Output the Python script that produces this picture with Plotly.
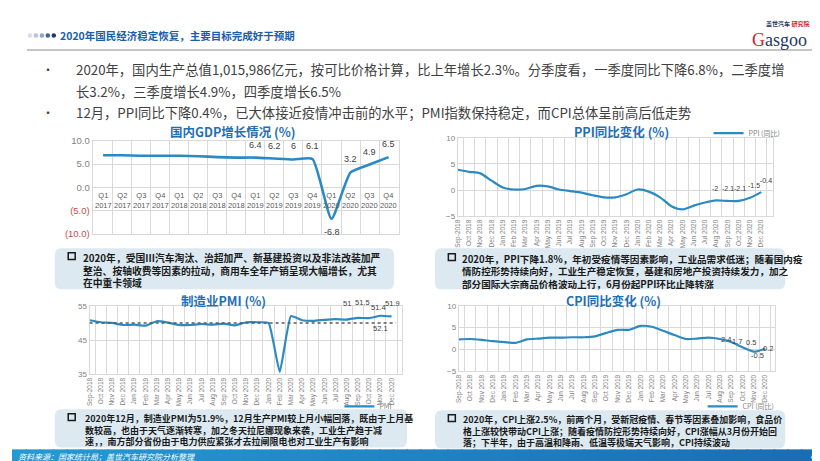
import plotly.graph_objects as go

W, H = 820, 461

# ---------------- data ----------------
gdp_quarters = ["Q1<br>2017", "Q2<br>2017", "Q3<br>2017", "Q4<br>2017",
                "Q1<br>2018", "Q2<br>2018", "Q3<br>2018", "Q4<br>2018",
                "Q1<br>2019", "Q2<br>2019", "Q3<br>2019", "Q4<br>2019",
                "Q1<br>2020", "Q2<br>2020", "Q3<br>2020", "Q4<br>2020"]
gdp_values = [6.9, 6.9, 6.8, 6.8, 6.8, 6.7, 6.5, 6.4, 6.4, 6.2, 6.0, 6.1, -6.8, 3.2, 4.9, 6.5]

months = ["Sep-2018", "Oct 2018", "Nov 2018", "Dec 2018",
          "Jan 2019", "Feb 2019", "Mar 2019", "Apr 2019", "May 2019", "Jun 2019",
          "Jul 2019", "Aug 2019", "Sep 2019", "Oct 2019", "Nov 2019", "Dec 2019",
          "Jan 2020", "Feb 2020", "Mar 2020", "Apr 2020", "May 2020", "Jun 2020",
          "Jul 2020", "Aug 2020", "Sep 2020", "Oct 2020", "Nov 2020", "Dec 2020"]
ppi_values = [3.9, 3.5, 3.2, 1.8, 0.5, 0.1, 0.2, 0.8, 0.7, 0.1, -0.2, -0.5, -1.0, -1.4,
              -1.4, -0.8, 0.1, -0.3, -1.4, -3.1, -3.7, -3.0, -2.4, -2.0, -2.1, -2.1, -1.5, -0.4]
pmi_values = [50.8, 50.2, 50.0, 49.4, 49.5, 49.2, 50.5, 50.1, 49.4, 49.4, 49.7, 49.5, 49.8, 49.3,
              50.2, 50.2, 50.0, 35.7, 52.0, 50.8, 50.6, 50.9, 51.1, 51.0, 51.5, 51.4, 52.1, 51.9]
pmi_threshold = 50
cpi_values = [2.3, 2.4, 2.2, 1.9, 1.7, 1.5, 2.3, 2.5, 2.7, 2.7, 2.8, 2.8, 3.0, 3.8,
              4.5, 4.5, 5.4, 5.2, 4.3, 3.3, 2.4, 2.5, 2.7, 2.4, 1.7, 0.5, -0.5, 0.2]

gdp_ticks = [10, 5, 0, -5, -10]
gdp_ticktext = ["10.0", "5.0", "0.0", "(5.0)", "(10.0)"]

title_text = "2020年国民经济稳定恢复，主要目标完成好于预期"
bullets = [
    "2020年，国内生产总值1,015,986亿元，按可比价格计算，比上年增长2.3%。分季度看，一季度同比下降6.8%，二季度增",
    "长3.2%，三季度增长4.9%，四季度增长6.5%",
    "12月，PPI同比下降0.4%，已大体接近疫情冲击前的水平；PMI指数保持稳定，而CPI总体呈前高后低走势",
]
box_texts = [
    ["2020年，受国III汽车淘汰、治超加严、新基建投资以及非法改装加严",
     "整治、按轴收费等因素的拉动，商用车全年产销呈现大幅增长，尤其",
     "在中重卡领域"],
    ["2020年，PPI下降1.8%，年初受疫情等因素影响，工业品需求低迷；随着国内疫",
     "情防控形势持续向好，工业生产稳定恢复，基建和房地产投资持续发力，加之",
     "部分国际大宗商品价格波动上行，6月份起PPI环比止降转涨"],
    ["2020年12月，制造业PMI为51.9%，12月生产PMI较上月小幅回落，既由于上月基",
     "数较高，也由于天气逐渐转寒，加之冬天拉尼娜现象来袭，工业生产趋于减",
     "速，，南方部分省份由于电力供应紧张才去拉闸限电也对工业生产有影响"],
    ["2020年，CPI上涨2.5%，前两个月，受新冠疫情、春节等因素叠加影响，食品价",
     "格上涨较快带动CPI上涨；随着疫情防控形势持续向好，CPI涨幅从3月份开始回",
     "落；下半年，由于高温和降雨、低温等极端天气影响，CPI持续波动"],
]
source_text = "资料来源：国家统计局；盖世汽车研究院分析整理"

# ---------------- helpers ----------------
def X(px):
    return px / W

def Y(py):
    return 1 - py / H

CJK = "Noto Sans CJK SC"
NUM = "Liberation Sans"
LINE = "#2B8AC2"
GRID = "#D9D9D9"
TICK = "#7F7F7F"
TITLE_BLUE = "#1F6FB5"

fig = go.Figure()

# ---------------- traces ----------------
fig.add_trace(go.Scatter(x=gdp_quarters, y=gdp_values, mode="lines", xaxis="x", yaxis="y",
                         line=dict(color=LINE, width=2.6, shape="spline", smoothing=0.5),
                         showlegend=False, hoverinfo="skip"))
fig.add_trace(go.Scatter(x=months, y=ppi_values, mode="lines", xaxis="x2", yaxis="y2",
                         name="PPI (同比)", legend="legend2",
                         line=dict(color=LINE, width=2.2, shape="spline", smoothing=0.7),
                         hoverinfo="skip"))
fig.add_trace(go.Scatter(x=months, y=pmi_values, mode="lines", xaxis="x3", yaxis="y3",
                         name="PMI", legend="legend3",
                         line=dict(color=LINE, width=2.2, shape="spline", smoothing=0.4),
                         hoverinfo="skip"))
fig.add_trace(go.Scatter(x=months, y=cpi_values, mode="lines", xaxis="x4", yaxis="y4",
                         name="CPI (同比)", legend="legend4",
                         line=dict(color=LINE, width=2.2, shape="spline", smoothing=0.7),
                         hoverinfo="skip"))

def xcat(domain, anchor, labels=True):
    return dict(domain=domain, anchor=anchor, type="category", tickson="boundaries",
                showgrid=True, gridcolor=GRID, gridwidth=1, zeroline=False,
                showline=True, mirror=True, linecolor=GRID, linewidth=1,
                ticks="", showticklabels=labels, tickangle=-90,
                tickfont=dict(family=NUM, size=6.5, color=TICK), fixedrange=True)

def yval(domain, anchor, rng, tickvals, ticktext=None, size=8):
    d = dict(domain=domain, anchor=anchor, range=rng, tickvals=tickvals,
             showgrid=True, gridcolor=GRID, gridwidth=1, zeroline=False,
             showline=True, mirror=True, linecolor=GRID, linewidth=1,
             ticks="", tickfont=dict(family=NUM, size=size, color=TICK), fixedrange=True)
    if ticktext is not None:
        d["ticktext"] = ticktext
    return d

gdp_colored = [t if v >= 0 else f"<span style='color:#C0504D'>{t}</span>"
               for t, v in zip(gdp_ticktext, gdp_ticks)]

fig.update_layout(
    width=W, height=H, margin=dict(l=0, r=0, t=0, b=0),
    paper_bgcolor="white", plot_bgcolor="rgba(0,0,0,0)",
    font=dict(family=CJK, color="#404040"),
    xaxis=xcat([X(81), X(389)], "y", labels=False),
    yaxis=yval([Y(225), Y(130)], "x", [-10, 10], gdp_ticks, gdp_colored, size=9.5),
    xaxis2=xcat([X(448), X(765)], "y2"),
    yaxis2=yval([Y(207), Y(127)], "x2", [-5, 10], [-5, 0, 5, 10]),
    xaxis3=xcat([X(78), X(392)], "y3"),
    yaxis3=yval([Y(369), Y(299)], "x3", [35, 55], [35, 45, 55]),
    xaxis4=xcat([X(449), X(767)], "y4"),
    yaxis4=yval([Y(366), Y(299)], "x4", [-5, 10], [-5, 0, 5, 10]),
    legend2=dict(x=X(700), y=Y(122), xanchor="left", yanchor="middle",
                 font=dict(family=CJK, size=7, color=TICK), bgcolor="rgba(0,0,0,0)",
                 itemwidth=30, tracegroupgap=0),
    legend3=dict(x=X(329), y=Y(402), xanchor="left", yanchor="middle",
                 font=dict(family=CJK, size=7, color=TICK), bgcolor="rgba(0,0,0,0)",
                 itemwidth=30),
    legend4=dict(x=X(694), y=Y(402), xanchor="left", yanchor="middle",
                 font=dict(family=CJK, size=7, color=TICK), bgcolor="rgba(0,0,0,0)",
                 itemwidth=30),
)

shapes = []
ann = []

# PMI reference line
shapes.append(dict(type="line", xref="x3 domain", yref="y3", x0=0, x1=0.98,
                   y0=pmi_threshold, y1=pmi_threshold,
                   line=dict(color="#595959", width=1.5, dash="dot")))

# GDP category labels on the zero line
for q in gdp_quarters:
    ann.append(dict(x=q, y=0, xref="x", yref="y", text=q, showarrow=False,
                    yanchor="top", yshift=-2, font=dict(family=NUM, size=7.5, color="#595959")))

# GDP data labels
for i in range(8, len(gdp_values)):
    v = gdp_values[i]
    ann.append(dict(x=gdp_quarters[i], y=v, xref="x", yref="y", text=f"{v:g}", showarrow=False,
                    yshift=13 if v > 0 else -13, font=dict(family=NUM, size=9, color="#404040")))

# PPI data labels
for i, xs in zip(range(23, 28), [-1, 0, 1, 4, 5]):
    v = ppi_values[i]
    ann.append(dict(x=months[i], y=v, xref="x2", yref="y2", text=f"{v:g}", showarrow=False,
                    yshift=12, xshift=xs, borderpad=0,
                    font=dict(family=NUM, size=7, color="#404040")))

# PMI data labels
for i, ys, xs in zip(range(23, 28), [16, 15, 11, -13, 13], [0, 4, 9, 0, 1]):
    v = pmi_values[i]
    ann.append(dict(x=months[i], y=v, xref="x3", yref="y3", text=f"{v:g}", showarrow=False,
                    yshift=ys, xshift=xs, font=dict(family=NUM, size=7.5, color="#404040")))

# CPI data labels
for i, ys, xs in zip(range(23, 28), [0, 1, 5, -4, 0], [6, 6, 8, 4, 3]):
    v = cpi_values[i]
    ann.append(dict(x=months[i], y=v, xref="x4", yref="y4", text=f"{v:g}", showarrow=False,
                    yshift=ys, xshift=xs, font=dict(family=NUM, size=7.5, color="#404040")))

# Chart titles
for txt, cx, cy in [("国内GDP增长情况 (%)", 222, 120), ("PPI同比变化 (%)", 612, 120),
                    ("制造业PMI (%)", 213, 293), ("CPI同比变化 (%)", 604, 294)]:
    ann.append(dict(x=X(cx), y=Y(cy), xref="paper", yref="paper", text=f"<b>{txt}</b>",
                    showarrow=False, xanchor="center", yanchor="middle",
                    font=dict(family=CJK, size=12.5, color=TITLE_BLUE)))

# Header
dot_colors = ["#D5DFEB", "#B3C5DB", "#8DA7C8", "#3F63A0", "#1F3B70"]
for k, c in enumerate(dot_colors):
    cx = 18 + k * 6
    shapes.append(dict(type="circle", xref="paper", yref="paper",
                       x0=X(cx - 2.3), x1=X(cx + 2.3), y0=Y(22 + 2.3), y1=Y(22 - 2.3),
                       fillcolor=c, line=dict(width=0)))
ann.append(dict(x=X(46), y=Y(22), xref="paper", yref="paper", text=f"<b>{title_text}</b>",
                showarrow=False, xanchor="left", yanchor="middle",
                font=dict(family=CJK, size=10.5, color="#1A5EA8")))
shapes.append(dict(type="line", xref="paper", yref="paper", x0=X(15), x1=X(810),
                   y0=Y(37), y1=Y(37), line=dict(color="#B0B0B0", width=1.5)))
# logo
ann.append(dict(x=X(779), y=Y(10), xref="paper", yref="paper",
                text="<b>盖世汽车 <span style='color:#D0202A'>研究院</span></b>",
                showarrow=False, xanchor="center", yanchor="middle",
                font=dict(family=CJK, size=6, color="#1F3864")))
ann.append(dict(x=X(771), y=Y(27), xref="paper", yref="paper",
                text="<span style='color:#D0202A'>G</span>asgoo",
                showarrow=False, xanchor="center", yanchor="middle",
                font=dict(family="Liberation Serif", size=18, color="#1F3864")))

# Bullets
for txt, py, bullet in [(bullets[0], 57, True), (bullets[1], 79, False), (bullets[2], 101, True)]:
    if bullet:
        ann.append(dict(x=X(28), y=Y(py), xref="paper", yref="paper", text="•", showarrow=False,
                        xanchor="left", yanchor="middle", font=dict(family=CJK, size=12, color="#404040")))
    ann.append(dict(x=X(62), y=Y(py), xref="paper", yref="paper", text=txt, showarrow=False,
                    xanchor="left", yanchor="middle", font=dict(family=CJK, size=13.3, color="#404040")))

# Text boxes
def rrect(x0, y0, x1, y1, r):
    pts = lambda a, b: f"{X(a):.5f},{Y(b):.5f}"
    return (f"M {pts(x0 + r, y0)} L {pts(x1 - r, y0)} Q {pts(x1, y0)} {pts(x1, y0 + r)} "
            f"L {pts(x1, y1 - r)} Q {pts(x1, y1)} {pts(x1 - r, y1)} "
            f"L {pts(x0 + r, y1)} Q {pts(x0, y1)} {pts(x0, y1 - r)} "
            f"L {pts(x0, y0 + r)} Q {pts(x0, y0)} {pts(x0 + r, y0)} Z")

boxes = [  # x0, y0, x1, y1, checkbox x, text x, first line y, font size
    (43, 240, 384, 282, 60, 70, 248, 9.8),
    (425, 240, 777, 282, 442, 451, 249, 9.6),
    (43, 405, 397, 444, 60, 72, 413, 9.0),
    (425, 406, 777, 445, 442, 452, 414, 9.0),
]
for (x0, y0, x1, y1, cbx, tx, ly, fs), lines in zip(boxes, box_texts):
    shapes.append(dict(type="path", xref="paper", yref="paper", path=rrect(x0, y0, x1, y1, 7),
                       fillcolor="#DCE9F1", line=dict(width=0), layer="below"))
    shapes.append(dict(type="rect", xref="paper", yref="paper",
                       x0=X(cbx - 3.5), x1=X(cbx + 3.5), y0=Y(ly + 3.5), y1=Y(ly - 3.5),
                       fillcolor="rgba(0,0,0,0)", line=dict(color="#1A1A1A", width=1.5)))
    ann.append(dict(x=X(tx), y=Y(ly - fs * 0.65), xref="paper", yref="paper",
                    text="<b>" + "<br>".join(lines) + "</b>", showarrow=False,
                    xanchor="left", yanchor="top", align="left", borderpad=0,
                    font=dict(family=CJK, size=fs, color="#1A1A1A")))

# Footer gradient bar
c0 = (0x24, 0x9A, 0xD3)
c1 = (0x1B, 0x6C, 0xB2)
n = 60
for k in range(n):
    t = k / (n - 1)
    col = tuple(int(round(a + (b - a) * t)) for a, b in zip(c0, c1))
    shapes.append(dict(type="rect", xref="paper", yref="paper",
                       x0=k / n, x1=(k + 1) / n + 0.002, y0=0, y1=Y(446),
                       fillcolor="rgb(%d,%d,%d)" % col, line=dict(width=0), layer="below"))
ann.append(dict(x=X(5), y=Y(453), xref="paper", yref="paper", text=f"<i>{source_text}</i>",
                showarrow=False, xanchor="left", yanchor="middle", borderpad=0,
                font=dict(family=CJK, size=8, color="white")))
ann.append(dict(x=X(806), y=Y(453), xref="paper", yref="paper", text="<b>4</b>",
                showarrow=False, xanchor="center", yanchor="middle", borderpad=0,
                font=dict(family=NUM, size=10, color="white")))

fig.update_layout(shapes=shapes, annotations=ann)
fig.write_html("out.html")
